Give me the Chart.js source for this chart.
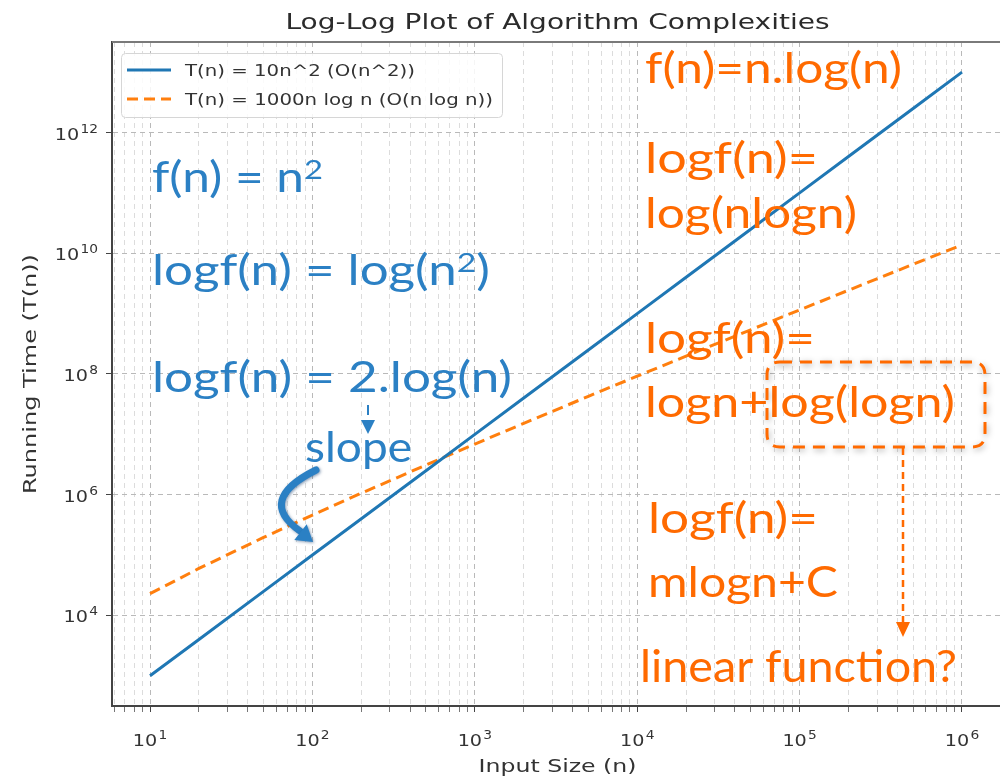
<!DOCTYPE html>
<html>
<head>
<meta charset="utf-8">
<title>Log-Log Plot of Algorithm Complexities</title>
<script src="https://cdn.jsdelivr.net/npm/chart.js@4.4.1/dist/chart.umd.min.js"></script>
<style>
    html, body { margin: 0; padding: 0; background: #fff; overflow: hidden; }
    #wrap { width: 1000px; height: 780px; }
</style>
</head>
<body>
<div id="wrap"><canvas id="complexity_Chart" width="1000" height="780"></canvas></div>
<script>
// input sizes along the x axis
var input_Sizes = [10, 20, 50, 100, 200, 500, 1000, 2000, 5000, 10000, 20000, 50000, 100000, 200000, 500000, 1000000];

// T(n) = 10n^2
var quadratic_Times = [1e3, 4e3, 2.5e4, 1e5, 4e5, 2.5e6, 1e7, 4e7, 2.5e8, 1e9, 4e9, 2.5e10, 1e11, 4e11, 2.5e12, 1e13];

// T(n) = 1000n log n
var nlogn_Times = [2.3e4, 6.0e4, 1.96e5, 4.6e5, 1.06e6, 3.1e6, 6.9e6, 1.52e7, 4.26e7, 9.2e7, 1.98e8, 5.4e8, 1.15e9, 2.44e9, 6.56e9, 1.38e10];

var series_Labels = ["T(n) = 10n^2 (O(n^2))", "T(n) = 1000n log n (O(n log n))"];

// tick values and the exponent shown on each label
var x_Tick_Values = [10, 100, 1000, 10000, 100000, 1000000];
var x_Tick_Exponents = ["1", "2", "3", "4", "5", "6"];
var y_Tick_Values = [1e4, 1e6, 1e8, 1e10, 1e12];
var y_Tick_Exponents = ["4", "6", "8", "10", "12"];

var chart_Title = "Log-Log Plot of Algorithm Complexities";
var x_Title = "Input Size (n)";
var y_Title = "Running Time (T(n))";

var blueText = "#2b80c4";
var orangeText = "#ff6a00";
var noteFont = "Lato";
var plotFont = "'DejaVu Sans'";

function toPoints(xs, ys) {
    var pts = [];
    for (var i = 0; i < xs.length; i++) {
        pts.push({ x: xs[i], y: ys[i] });
    }
    return pts;
}

function isPow10(v) {
    var l = Math.log10(v);
    return Math.abs(l - Math.round(l)) < 1e-9;
}

// major + minor positions for the x grid
function xGridTicks(min, max) {
    var out = [];
    for (var k = 0; k <= 6; k++) {
        for (var m = 1; m <= 9; m++) {
            var v = m * Math.pow(10, k);
            if (v >= min && v <= max) out.push({ value: v });
        }
    }
    return out;
}

// the screenshot is stretched sideways, so text is drawn at its height and widened to fit
function drawStretched(ctx, text, font, x, y, targetW, align, color) {
    ctx.save();
    ctx.font = font;
    var w = ctx.measureText(text).width;
    ctx.translate(x, y);
    ctx.scale(targetW / w, 1);
    ctx.fillStyle = color;
    ctx.textBaseline = "alphabetic";
    ctx.textAlign = align;
    ctx.fillText(text, 0, 0);
    ctx.restore();
}

// "10" with a raised exponent, like matplotlib's mathtext
function drawPowerLabel(ctx, exp, x, y, align) {
    var stretch = 1.2;
    ctx.save();
    ctx.font = "16px " + plotFont;
    var wb = ctx.measureText("10").width;
    ctx.font = "11.5px " + plotFont;
    var ws = ctx.measureText(exp).width;
    var total = (wb + ws + 1) * stretch;
    var start = align === "center" ? x - total / 2 : x - total;
    ctx.translate(start, y);
    ctx.scale(stretch, 1);
    ctx.fillStyle = "#333";
    ctx.textAlign = "left";
    ctx.textBaseline = "alphabetic";
    ctx.font = "16px " + plotFont;
    ctx.fillText("10", 0, 0);
    ctx.font = "11.5px " + plotFont;
    ctx.fillText(exp, wb + 1, -7);
    ctx.restore();
}

function drawNote(ctx, parts, x, y, targetW, size, color) {
    var total = 0;
    parts.forEach(function (p) {
        ctx.font = (p[1] ? size * 0.66 : size) + "px " + noteFont;
        total += ctx.measureText(p[0]).width;
    });
    ctx.save();
    ctx.translate(x, y);
    ctx.scale(targetW / total, 1);
    ctx.fillStyle = color;
    ctx.textBaseline = "alphabetic";
    ctx.textAlign = "left";
    var cx = 0;
    parts.forEach(function (p) {
        ctx.font = (p[1] ? size * 0.66 : size) + "px " + noteFont;
        ctx.fillText(p[0], cx, p[1] ? -size * 0.3 : 0);
        cx += ctx.measureText(p[0]).width;
    });
    ctx.restore();
}

function arrowHead(ctx, tipX, tipY, dx, dy, len, half, color) {
    var px = -dy, py = dx;
    ctx.beginPath();
    ctx.moveTo(tipX, tipY);
    ctx.lineTo(tipX - dx * len + px * half, tipY - dy * len + py * half);
    ctx.lineTo(tipX - dx * len - px * half, tipY - dy * len - py * half);
    ctx.closePath();
    ctx.fillStyle = color;
    ctx.fill();
}

function roundRect(ctx, x, y, w, h, r) {
    ctx.beginPath();
    ctx.moveTo(x + r, y);
    ctx.lineTo(x + w - r, y);
    ctx.quadraticCurveTo(x + w, y, x + w, y + r);
    ctx.lineTo(x + w, y + h - r);
    ctx.quadraticCurveTo(x + w, y + h, x + w - r, y + h);
    ctx.lineTo(x + r, y + h);
    ctx.quadraticCurveTo(x, y + h, x, y + h - r);
    ctx.lineTo(x, y + r);
    ctx.quadraticCurveTo(x, y, x + r, y);
    ctx.closePath();
}

// titles, tick labels, top spine and legend box (matplotlib style)
var framePlugin = {
    id: "framePlugin",
    afterDatasetsDraw: function (chart) {
        var ctx = chart.ctx;
        var a = chart.chartArea;
        var xs = chart.scales.x;
        var ys = chart.scales.y;
        var midX = (a.left + 1003) / 2;
        ctx.save();
        ctx.strokeStyle = "#7a7a7a";
        ctx.lineWidth = 2;
        ctx.beginPath();
        ctx.moveTo(a.left, a.top);
        ctx.lineTo(a.right, a.top);
        ctx.stroke();

        x_Tick_Values.forEach(function (v, i) {
            drawPowerLabel(ctx, x_Tick_Exponents[i], xs.getPixelForValue(v), 746, "center");
        });
        y_Tick_Values.forEach(function (v, i) {
            drawPowerLabel(ctx, y_Tick_Exponents[i], 98, ys.getPixelForValue(v) + 7, "right");
        });

        drawStretched(ctx, chart_Title, "21px " + plotFont, midX, 29, 544, "center", "#2b2b2b");
        drawStretched(ctx, x_Title, "18px " + plotFont, midX, 772, 158, "center", "#333");
        ctx.save();
        ctx.translate(36, (a.top + a.bottom) / 2);
        ctx.rotate(-Math.PI / 2);
        drawStretched(ctx, y_Title, "18px " + plotFont, 0, 0, 240, "center", "#333");
        ctx.restore();

        // legend
        roundRect(ctx, 121.5, 53.5, 381, 64, 4);
        ctx.fillStyle = "rgba(255,255,255,0.85)";
        ctx.fill();
        ctx.strokeStyle = "#d6d6d6";
        ctx.lineWidth = 1;
        ctx.stroke();

        var rows = [70, 99];
        var widths = [230, 308];
        chart.data.datasets.forEach(function (ds, i) {
            ctx.strokeStyle = ds.borderColor;
            ctx.lineWidth = ds.borderWidth;
            ctx.setLineDash(ds.borderDash || []);
            ctx.beginPath();
            ctx.moveTo(127, rows[i]);
            ctx.lineTo(171, rows[i]);
            ctx.stroke();
            ctx.setLineDash([]);
            drawStretched(ctx, ds.label, "16px " + plotFont, 185, rows[i] + 6, widths[i], "left", "#333");
        });
        ctx.restore();
    }
};

// hand-written notes laid over the chart
var notesPlugin = {
    id: "notesPlugin",
    afterDraw: function (chart) {
        var ctx = chart.ctx;
        ctx.save();

        drawNote(ctx, [["f(n) = n", 0], ["2", 1]], 152, 192, 171, 42, blueText);
        drawNote(ctx, [["logf(n) = log(n", 0], ["2", 1], [")", 0]], 152, 285, 338, 42, blueText);
        drawNote(ctx, [["logf(n) = 2.log(n)", 0]], 152, 392, 360, 42, blueText);
        drawNote(ctx, [["slope", 0]], 305, 462, 107, 42, blueText);

        drawNote(ctx, [["f(n)=n.log(n)", 0]], 645, 83, 257, 42, orangeText);
        drawNote(ctx, [["logf(n)=", 0]], 645, 173, 173, 42, orangeText);
        drawNote(ctx, [["log(nlogn)", 0]], 645, 228, 212, 42, orangeText);
        drawNote(ctx, [["logf(n)=", 0]], 645, 353, 170, 42, orangeText);
        drawNote(ctx, [["logn+log(logn)", 0]], 645, 417, 310, 42, orangeText);
        drawNote(ctx, [["logf(n)=", 0]], 648, 533, 170, 42, orangeText);
        drawNote(ctx, [["mlogn+C", 0]], 648, 597, 190, 42, orangeText);
        drawNote(ctx, [["linear function?", 0]], 640, 682, 317, 44, orangeText);

        // small arrow from "2" down to "slope"
        ctx.strokeStyle = blueText;
        ctx.lineWidth = 2;
        ctx.beginPath();
        ctx.moveTo(368, 405);
        ctx.lineTo(368, 415);
        ctx.stroke();
        arrowHead(ctx, 368, 434, 0, 1, 14, 7, blueText);

        // curved arrow
        ctx.save();
        ctx.shadowColor = "rgba(20,60,110,0.5)";
        ctx.shadowBlur = 3;
        ctx.shadowOffsetX = 1;
        ctx.shadowOffsetY = 1;
        ctx.strokeStyle = blueText;
        ctx.lineWidth = 7;
        ctx.lineCap = "round";
        ctx.beginPath();
        ctx.moveTo(316, 470);
        ctx.quadraticCurveTo(256, 500, 300, 531);
        ctx.stroke();
        arrowHead(ctx, 313, 542, 0.78, 0.62, 16, 10, blueText);
        ctx.restore();

        // dashed rounded box around log(logn)
        ctx.save();
        ctx.shadowColor = "rgba(0,0,0,0.35)";
        ctx.shadowBlur = 6;
        ctx.shadowOffsetX = 1;
        ctx.shadowOffsetY = 2;
        ctx.strokeStyle = orangeText;
        ctx.lineWidth = 3;
        ctx.setLineDash([12, 8]);
        roundRect(ctx, 767, 362, 218, 85, 13);
        ctx.stroke();
        ctx.restore();

        // dashed arrow down to "linear function?"
        ctx.strokeStyle = orangeText;
        ctx.lineWidth = 2.5;
        ctx.setLineDash([7, 5]);
        ctx.beginPath();
        ctx.moveTo(903, 448);
        ctx.lineTo(903, 622);
        ctx.stroke();
        ctx.setLineDash([]);
        arrowHead(ctx, 903, 637, 0, 1, 15, 7, orangeText);

        ctx.restore();
    }
};

var canvasC = document.getElementById("complexity_Chart");
var ctxC = canvasC.getContext("2d");

var complexity_Chart = new Chart(ctxC, {
    type: "line",
    data: {
        datasets: [{
            label: series_Labels[0],
            data: toPoints(input_Sizes, quadratic_Times),
            borderColor: "#1f77b4",
            borderWidth: 3,
            pointRadius: 0,
            tension: 0
        }, {
            label: series_Labels[1],
            data: toPoints(input_Sizes, nlogn_Times),
            borderColor: "#ff7f0e",
            borderWidth: 3,
            borderDash: [11, 6],
            pointRadius: 0,
            tension: 0
        }]
    },
    options: {
        responsive: false,
        animation: false,
        devicePixelRatio: 1,
        layout: { padding: { top: 42, left: 0, right: 0, bottom: 0 } },
        plugins: {
            legend: { display: false },
            tooltip: { enabled: false },
            title: { display: false }
        },
        scales: {
            x: {
                type: "logarithmic",
                min: 5.83,
                max: 1.714e6,
                afterBuildTicks: function (scale) {
                    scale.ticks = xGridTicks(scale.min, scale.max);
                },
                afterFit: function (scale) {
                    scale.height = 74;
                },
                ticks: { display: false, autoSkip: false },
                grid: {
                    color: function (c) {
                        return c.tick && isPow10(c.tick.value) ? "#b9b9b9" : "#dcdcdc";
                    },
                    lineWidth: 1,
                    tickLength: 6,
                    tickColor: function (c) {
                        return c.tick && isPow10(c.tick.value) ? "#444" : "#777";
                    }
                },
                border: { display: true, color: "#444", width: 2, dash: [5, 4] },
                title: { display: false }
            },
            y: {
                type: "logarithmic",
                min: 316,
                max: 3.16e13,
                afterBuildTicks: function (scale) {
                    scale.ticks = y_Tick_Values.map(function (v) { return { value: v }; });
                },
                afterFit: function (scale) {
                    scale.width = 112;
                },
                ticks: { display: false, autoSkip: false },
                grid: {
                    color: "#b9b9b9",
                    lineWidth: 1,
                    tickLength: 6,
                    tickColor: "#444"
                },
                border: { display: true, color: "#444", width: 2, dash: [5, 4] },
                title: { display: false }
            }
        }
    },
    plugins: [framePlugin, notesPlugin]
});
</script>
</body>
</html>
